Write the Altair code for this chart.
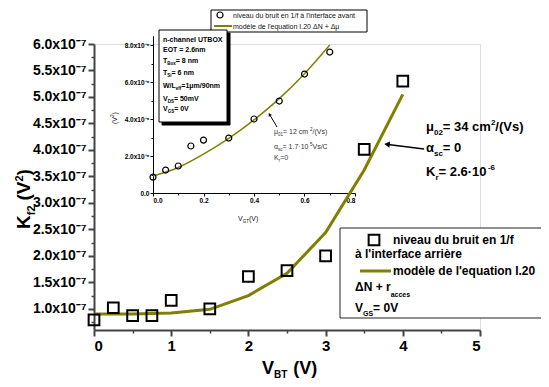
import altair as alt
import pandas as pd

# ---------------- data ----------------
# main chart: back-interface 1/f noise level vs V_BT
vbt = [0, 0.25, 0.5, 0.75, 1.0, 1.5, 2.0, 2.5, 3.0, 3.5, 4.0]
kf2 = [0.79e-7, 1.02e-7, 0.87e-7, 0.87e-7, 1.16e-7, 1.0e-7, 1.61e-7, 1.72e-7, 2.0e-7, 4.01e-7, 5.3e-7]
model_vbt = [0, 0.5, 1.0, 1.5, 2.0, 2.5, 3.0, 3.5, 4.0]
model_kf2 = [0.90e-7, 0.90e-7, 0.92e-7, 0.99e-7, 1.25e-7, 1.67e-7, 2.44e-7, 3.62e-7, 5.05e-7]

# inset: front-interface noise level vs V_GT
vgt = [0, 0.05, 0.1, 0.15, 0.2, 0.3, 0.4, 0.5, 0.6, 0.7]
kf_front = [0.86e-6, 1.24e-6, 1.46e-6, 2.54e-6, 2.86e-6, 2.97e-6, 4.0e-6, 4.97e-6, 6.43e-6, 7.62e-6]
model_vgt = [0, 0.1, 0.2, 0.3, 0.4, 0.5, 0.6, 0.7]
model_front = [0.92e-6, 1.38e-6, 2.1e-6, 2.95e-6, 3.95e-6, 5.1e-6, 6.45e-6, 8.0e-6]

main_x_ticks = [0, 1, 2, 3, 4, 5]
main_x_minor = [0.5, 1.5, 2.5, 3.5, 4.5]
main_y_ticks = [1.0e-7, 1.5e-7, 2.0e-7, 2.5e-7, 3.0e-7, 3.5e-7, 4.0e-7, 4.5e-7, 5.0e-7, 5.5e-7, 6.0e-7]
main_y_minor = [0.75e-7, 1.25e-7, 1.75e-7, 2.25e-7, 2.75e-7, 3.25e-7, 3.75e-7, 4.25e-7, 4.75e-7, 5.25e-7, 5.75e-7]
inset_x_ticks = [0, 0.2, 0.4, 0.6, 0.8]
inset_x_minor = [0.1, 0.3, 0.5, 0.7]
inset_y_ticks = [0, 2e-6, 4e-6, 6e-6, 8e-6]
inset_y_minor = [1e-6, 3e-6, 5e-6, 7e-6]

# ---------------- layout ----------------
OX, OY = 94, 44          # page position of plot origin
W, H = 386, 286
OLIVE = "#808000"
FONT = "Liberation Sans"

def px(v):
    return v - OX

def py(v):
    return v - OY

REG = {' ': 278, '(': 333, ')': 333, '+': 584, '-': 333, '.': 278, '/': 278, '=': 584, '·': 278, "'": 191,
       'A': 667, 'B': 667, 'C': 722, 'D': 722, 'E': 667, 'G': 778, 'I': 278, 'K': 667, 'L': 556, 'N': 722,
       'O': 778, 'S': 667, 'T': 611, 'U': 722, 'V': 667, 'W': 944, 'X': 667,
       'a': 556, 'b': 556, 'c': 500, 'd': 556, 'e': 556, 'f': 278, 'g': 556, 'h': 556, 'i': 222, 'l': 222,
       'm': 833, 'n': 556, 'o': 556, 'p': 556, 'r': 333, 's': 500, 't': 278, 'u': 556, 'v': 500, 'x': 500,
       'μ': 576, 'α': 578, 'Δ': 668, 'è': 556, 'à': 556}
BOLD = {' ': 278, '(': 333, ')': 333, '+': 584, '-': 333, '.': 278, '/': 278, '=': 584, '·': 278, "'": 238,
        'A': 722, 'B': 722, 'C': 722, 'D': 722, 'E': 667, 'G': 778, 'I': 278, 'K': 722, 'L': 611, 'N': 722,
        'O': 778, 'S': 667, 'T': 611, 'U': 722, 'V': 667, 'W': 944, 'X': 667,
        'a': 556, 'b': 611, 'c': 556, 'd': 611, 'e': 556, 'f': 333, 'g': 611, 'h': 611, 'i': 278, 'l': 278,
        'm': 889, 'n': 611, 'o': 611, 'p': 611, 'r': 389, 's': 556, 't': 333, 'u': 611, 'v': 556, 'x': 556,
        'μ': 611, 'α': 611, 'Δ': 722, 'è': 556, 'à': 556}

def width(t, size, bold):
    tab = BOLD if bold else REG
    return sum(tab.get(c, 556) for c in t) / 1000.0 * size

def runs(x0, y0, parts, bold, color="black", rotated=False):
    # parts: (text, size, baseline shift[, extra gap before])
    rows = []
    adv = 0.0
    for p in parts:
        text, size, d = p[0], p[1], p[2]
        adv += p[3] if len(p) > 3 else 0
        if rotated:
            rows.append(dict(x=px(x0 + d), y=py(y0 - adv), text=text, size=size, color=color))
        else:
            rows.append(dict(x=px(x0 + adv), y=py(y0 + d), text=text, size=size, color=color))
        adv += width(text, size, bold)
    return rows

bold_rows = []
# main annotation
bold_rows += runs(426, 131, [("μ", 13, 0), ("02", 8, 4), ("= 34 cm", 13, 0), ("2", 8, -6), ("/(Vs)", 13, 0)], True)
bold_rows += runs(426, 152, [("α", 13, 0), ("sc", 8, 4), (" = 0", 13, 0)], True)
bold_rows += runs(426, 176, [("K", 13, 0), ("r", 8, 4), (" = 2.6·10", 13, 0), ("-6", 8, -6, -1.5)], True)
# main legend
bold_rows += runs(393, 244, [("niveau du bruit en 1/f", 12, 0)], True)
bold_rows += runs(355, 258, [("à l'interface arrière", 12, 0)], True)
bold_rows += runs(393, 275, [("modèle de l'equation I.20", 12, 0)], True)
bold_rows += runs(355, 291, [("ΔN + r", 12, 0), ("acces", 7, 6)], True)
bold_rows += runs(355, 312, [("V", 12, 0), ("GS", 7, 4), (" = 0V", 12, 0)], True)
# inset text box
bold_rows += runs(163, 41.5, [("n-channel UTBOX", 7, 0)], True)
bold_rows += runs(163, 51.5, [("EOT = 2.6nm", 7, 0)], True)
bold_rows += runs(163, 62.5, [("T", 7, 0), ("Box", 4.5, 2), (" = 8 nm", 7, 0)], True)
bold_rows += runs(163, 74.5, [("T", 7, 0), ("Si", 4.5, 2), (" = 6 nm", 7, 0)], True)
bold_rows += runs(163, 87.5, [("W/L", 7, 0), ("eff", 4.5, 2), ("=1μm/90nm", 7, 0)], True)
bold_rows += runs(163, 100.5, [("V", 7, 0), ("DS", 4.5, 2), (" = 50mV", 7, 0)], True)
bold_rows += runs(163, 110.5, [("V", 7, 0), ("GS", 4.5, 2), (" = 0V", 7, 0)], True)
# main x title
bold_rows += runs(262, 374, [("V", 18, 0), ("BT", 10, 4), ("(V)", 18, 0, 6)], True)

reg_rows = []
reg_rows += runs(233, 17.5, [("niveau du bruit en 1/f à l'interface avant", 7, 0)], False, "#111")
reg_rows += runs(233, 28.5, [("modèle de l'equation I.20 ΔN + Δμ", 7, 0)], False, "#111")
reg_rows += runs(274, 133.5, [("μ", 7, 0), ("01", 4.5, 2), (" = 12 cm", 7, 0), ("2", 4.5, -3), ("/(Vs)", 7, 0)], False, "#333")
reg_rows += runs(274, 148.5, [("α", 7, 0), ("sc", 4.5, 2), (" = 1.7·10", 7, 0), ("5", 4.5, -3), ("Vs/C", 7, 0)], False, "#333")
reg_rows += runs(274, 159.5, [("K", 7, 0), ("r", 4.5, 2), ("=0", 7, 0)], False, "#333")
reg_rows += runs(238, 221, [("V", 7, 0), ("GT", 4.5, 2), (" (V)", 7, 0)], False, "#111")

rot_bold = runs(30, 229, [("K", 19, 0), ("f2", 11, 5), ("(V", 19, 0, 5), ("2", 11, -7), (")", 19, 0)], True, rotated=True)
rot_reg = runs(117, 124, [("(V", 7, 0), ("2", 4.5, -3), (")", 7, 0)], False, "#111", rotated=True)

rects = pd.DataFrame([
    dict(x=px(211), x2=px(367), y=py(10), y2=py(32), fill="white", stroke="black"),
    dict(x=px(162), x2=px(230), y=py(33), y2=py(125), fill="black", stroke="black"),
    dict(x=px(159), x2=px(227), y=py(30), y2=py(122), fill="white", stroke="black"),
    dict(x=px(340), x2=px(600), y=py(228), y2=py(318), fill="white", stroke="#222"),
])

# ---------------- main chart ----------------
main_df = pd.DataFrame({"vbt": vbt, "kf2": kf2})
model_df = pd.DataFrame({"vbt": model_vbt, "kf2": model_kf2})

def xs_main():
    return alt.Scale(domain=[0, 5], nice=False, zero=False)

def ys_main():
    return alt.Scale(domain=[0.6e-7, 6.0e-7], nice=False, zero=False)

x_axis_main = alt.Axis(values=main_x_ticks, tickCount=30, format="d", title=None, grid=False, orient="bottom",
                       labelFontSize=15, labelFontWeight="bold", labelColor="black", labelFont=FONT,
                       tickSize=6, tickWidth=2, tickColor="#444", domainColor="#444", domainWidth=2,
                       labelPadding=2, labelOverlap=False)
y_axis_main = alt.Axis(values=main_y_ticks, tickCount=30, title=None, grid=False, orient="left",
                       labelExpr="format(datum.value*1e7, '.1f') + 'x10⁻⁷'",
                       labelFontSize=14, labelFontWeight="bold", labelColor="black", labelFont=FONT,
                       tickSize=6, tickWidth=2, tickColor="#444", domainColor="#444", domainWidth=2,
                       labelPadding=2, labelOverlap=False)

main_line = alt.Chart(model_df).mark_line(color=OLIVE, strokeWidth=3).encode(
    x=alt.X("vbt:Q", scale=xs_main(), axis=x_axis_main),
    y=alt.Y("kf2:Q", scale=ys_main(), axis=y_axis_main),
)
main_pts = alt.Chart(main_df).mark_point(shape="square", size=115, filled=False, color="black",
                                         strokeWidth=2, opacity=1).encode(
    x=alt.X("vbt:Q", scale=xs_main()),
    y=alt.Y("kf2:Q", scale=ys_main()),
)
main = alt.layer(main_line, main_pts)

main_minor = alt.Chart(main_df).mark_point(opacity=0).encode(
    x=alt.X("vbt:Q", scale=xs_main(),
            axis=alt.Axis(values=main_x_minor, tickCount=30, labels=False, domain=False, grid=False,
                          title=None, orient="bottom", tickSize=3, tickWidth=1.5, tickColor="#444")),
    y=alt.Y("kf2:Q", scale=ys_main(),
            axis=alt.Axis(values=main_y_minor, tickCount=30, labels=False, domain=False, grid=False,
                          title=None, orient="left", tickSize=3, tickWidth=1.5, tickColor="#444")),
)

# ---------------- inset ----------------
inset_df = pd.DataFrame({"vgt": vgt, "kf": kf_front})
inset_model_df = pd.DataFrame({"vgt": model_vgt, "kf": model_front})
xr = [px(153), px(355)]
yr = [py(193), py(193) - 8.5 * 18.5]

def xs_in():
    return alt.Scale(domain=[0, 0.8], range=xr, nice=False, zero=False)

def ys_in():
    return alt.Scale(domain=[0, 8.5e-6], range=yr, nice=False, zero=False)

x_axis_in = alt.Axis(values=inset_x_ticks, tickCount=30, format=".1f", title=None, grid=False,
                     orient="bottom", offset=py(193) - H, labelFontSize=6.5, labelFontWeight="bold",
                     labelColor="black", labelFont=FONT, tickSize=3, tickColor="black",
                     domainColor="black", domainWidth=1, labelPadding=1, labelOverlap=False)
y_axis_in = alt.Axis(values=inset_y_ticks, tickCount=30, title=None, grid=False, orient="left",
                     offset=-px(153),
                     labelExpr="datum.value == 0 ? '0.0' : format(datum.value*1e6, '.1f') + 'x10⁻⁶'",
                     labelFontSize=6.5, labelFontWeight="bold", labelColor="black", labelFont=FONT,
                     tickSize=3, tickColor="black", domainColor="black", domainWidth=1, labelPadding=1,
                     labelOverlap=False)

inset_line = alt.Chart(inset_model_df).mark_line(color=OLIVE, strokeWidth=1.5, interpolate="monotone").encode(
    x=alt.X("vgt:Q", scale=xs_in(), axis=x_axis_in),
    y=alt.Y("kf:Q", scale=ys_in(), axis=y_axis_in),
)
inset_pts = alt.Chart(inset_df).mark_point(shape="circle", size=36, filled=False, color="black",
                                           strokeWidth=1.2, opacity=1).encode(
    x=alt.X("vgt:Q", scale=xs_in()),
    y=alt.Y("kf:Q", scale=ys_in()),
)
inset = alt.layer(inset_line, inset_pts)

inset_minor = alt.Chart(inset_df).mark_point(opacity=0).encode(
    x=alt.X("vgt:Q", scale=xs_in(),
            axis=alt.Axis(values=inset_x_minor, tickCount=30, labels=False, domain=False, grid=False,
                          title=None, orient="bottom", offset=py(193) - H, tickSize=2, tickColor="black")),
    y=alt.Y("kf:Q", scale=ys_in(),
            axis=alt.Axis(values=inset_y_minor, tickCount=30, labels=False, domain=False, grid=False,
                          title=None, orient="left", offset=-px(153), tickSize=2, tickColor="black")),
)

# ---------------- decorations ----------------
rect_layer = alt.Chart(rects).mark_rect(strokeWidth=1).encode(
    x=alt.X("x:Q", scale=None, axis=None), x2="x2:Q",
    y=alt.Y("y:Q", scale=None, axis=None), y2="y2:Q",
    fill=alt.Fill("fill:N", scale=None, legend=None),
    stroke=alt.Stroke("stroke:N", scale=None, legend=None),
)

ONE = pd.DataFrame({"k": [0]})

def pt(x, y, **kw):
    return alt.Chart(ONE).mark_point(**kw).encode(x=alt.value(px(x)), y=alt.value(py(y)))

def rule(x1, y1, x2, y2, **kw):
    return alt.Chart(ONE).mark_rule(**kw).encode(
        x=alt.value(px(x1)), y=alt.value(py(y1)), x2=alt.value(px(x2)), y2=alt.value(py(y2)))

legend_marks = [
    pt(374, 240, shape="square", size=115, filled=False, color="black", strokeWidth=2, opacity=1),
    rule(360, 271, 391, 271, color=OLIVE, strokeWidth=3),
    pt(220, 15, shape="circle", size=36, filled=False, color="black", strokeWidth=1.2, opacity=1),
    rule(214, 26, 232, 26, color=OLIVE, strokeWidth=2),
    rule(424, 149, 388, 144.5, color="black", strokeWidth=1.5),
    pt(387, 144.3, shape="triangle-left", size=40, filled=True, color="black", angle=7, opacity=1),
    rule(277, 127, 270.5, 116, color="black", strokeWidth=1),
    pt(269.5, 114.5, shape="triangle-left", size=14, filled=True, color="black", angle=59, opacity=1),
]

def text_layer(rows, bold, angle=0):
    kw = dict(align="left", baseline="alphabetic", font=FONT)
    if bold:
        kw["fontWeight"] = "bold"
    if angle:
        kw["angle"] = angle
    return alt.Chart(pd.DataFrame(rows)).mark_text(**kw).encode(
        x=alt.X("x:Q", scale=None, axis=None),
        y=alt.Y("y:Q", scale=None, axis=None),
        text="text:N",
        size=alt.Size("size:Q", scale=None, legend=None),
        color=alt.Color("color:N", scale=None, legend=None),
    )

chart = alt.layer(
    main, main_minor, inset, inset_minor, rect_layer, *legend_marks,
    text_layer(bold_rows, True), text_layer(reg_rows, False),
    text_layer(rot_bold, True, 270), text_layer(rot_reg, False, 270),
).resolve_scale(x="independent", y="independent").properties(
    width=W, height=H,
    autosize=alt.AutoSizeParams(type="none"),
    padding={"left": OX - 8, "top": OY - 8, "right": 61, "bottom": 49},
).configure_view(stroke=None).configure(background="white", font=FONT)

chart.save("out.html", embed_options={"renderer": "svg", "actions": False})
